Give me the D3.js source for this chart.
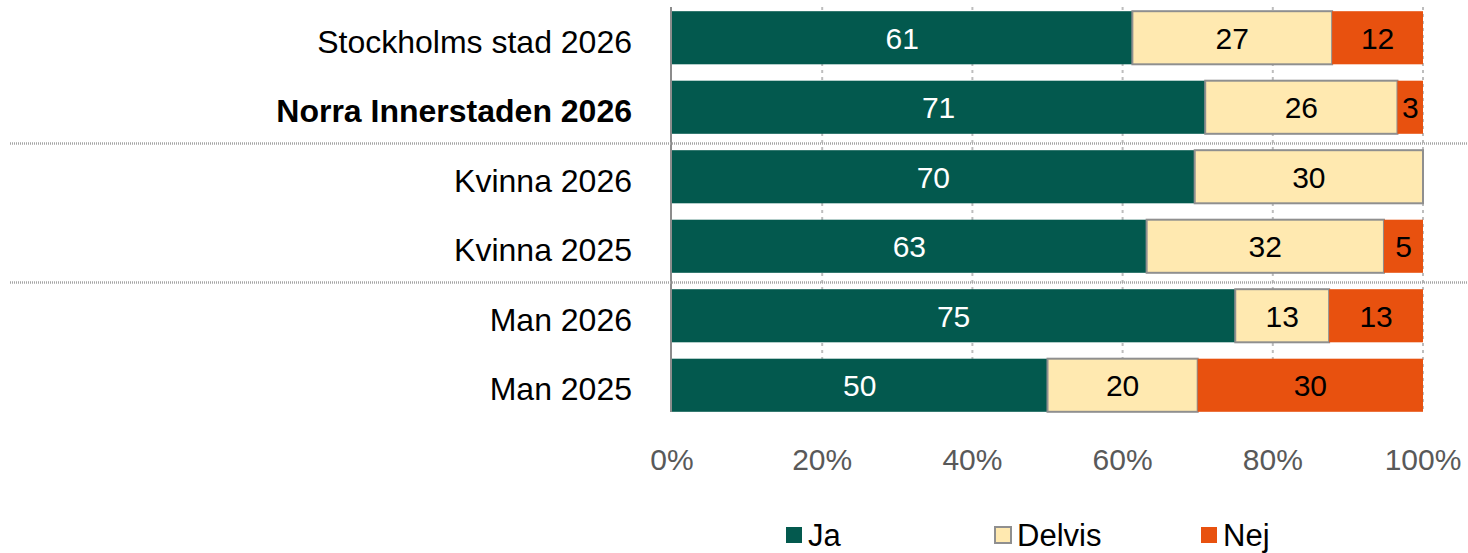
<!DOCTYPE html>
<html>
<head>
<meta charset="utf-8">
<script src="https://cdn.jsdelivr.net/npm/d3@7"></script>
<style>
  html, body { margin: 0; padding: 0; background: #fff; }
  svg { display: block; font-family: Arial, "Liberation Sans", sans-serif; }
</style>
</head>
<body>
<svg id="chart" width="1468" height="553"></svg>
<script>
// ---- data ----
const categories = ["Stockholms stad 2026", "Norra Innerstaden 2026", "Kvinna 2026", "Kvinna 2025", "Man 2026", "Man 2025"];
const boldCategories = ["Norra Innerstaden 2026"];
const seriesNames = ["Ja", "Delvis", "Nej"];
const jaValues = [61.3, 71.0, 69.6, 63.2, 75.0, 50.0];
const delvisValues = [26.6, 25.6, 30.4, 31.6, 12.5, 20.0];
const nejValues = [12.1, 3.4, 0, 5.2, 12.5, 30.0];
const ticks = [0, 20, 40, 60, 80, 100];
const separatorsAfter = ["Norra Innerstaden 2026", "Kvinna 2025"];

const colors = { "Ja": "#03594E", "Delvis": "#FFE9B0", "Nej": "#E8510F" };
const labelColors = { "Ja": "#ffffff", "Delvis": "#000000", "Nej": "#000000" };

const svg = d3.select("#chart");
const x = d3.scaleLinear().domain([0, 100]).range([672, 1423]);
const y = d3.scaleBand().domain(categories).range([3, 420]).paddingInner(0.236).paddingOuter(0.118);

const rows = categories.map((c, i) => ({ cat: c, Ja: jaValues[i], Delvis: delvisValues[i], Nej: nejValues[i] }));
const stacked = d3.stack().keys(seriesNames)(rows);

// gridlines
svg.append("g").selectAll("line").data(ticks.filter(t => t > 0)).join("line")
  .attr("x1", d => x(d)).attr("x2", d => x(d))
  .attr("y1", 7).attr("y2", 412)
  .attr("stroke", "#bdbdbd").attr("stroke-width", 2).attr("stroke-dasharray", "3,4");

// bars
const layers = svg.append("g").selectAll("g").data(stacked).join("g")
  .attr("fill", d => colors[d.key]);
layers.each(function(layer) {
  const g = d3.select(this);
  g.selectAll("rect").data(layer.filter(d => d[1] - d[0] > 0)).join("rect")
    .attr("x", d => x(d[0]))
    .attr("y", d => y(d.data.cat))
    .attr("width", d => x(d[1]) - x(d[0]))
    .attr("height", y.bandwidth())
    .attr("stroke", layer.key === "Delvis" ? "#8f8f8f" : "none")
    .attr("stroke-width", layer.key === "Delvis" ? 2 : 0);
  g.selectAll("text").data(layer.filter(d => d[1] - d[0] > 0)).join("text")
    .attr("x", d => x((d[0] + d[1]) / 2))
    .attr("y", d => y(d.data.cat) + y.bandwidth() / 2 + 11)
    .attr("text-anchor", "middle")
    .attr("font-size", 30)
    .attr("fill", labelColors[layer.key])
    .text(d => d3.format(".0f")(d[1] - d[0]));
});

// axis line
svg.append("line").attr("x1", 671).attr("x2", 671).attr("y1", 7).attr("y2", 412)
  .attr("stroke", "#8c8c8c").attr("stroke-width", 2);

// separators
const step = y.step();
separatorsAfter.forEach(c => {
  const yy = y(c) + y.bandwidth() + (step - y.bandwidth()) / 2 + 1.5;
  svg.append("line").attr("x1", 10).attr("x2", 1468).attr("y1", yy).attr("y2", yy)
    .attr("stroke", "#a6a6a6").attr("stroke-width", 2.5).attr("stroke-dasharray", "1,1");
});

// category labels
svg.append("g").selectAll("text").data(categories).join("text")
  .attr("x", 632)
  .attr("y", d => y(d) + y.bandwidth() / 2 + 15)
  .attr("text-anchor", "end")
  .attr("font-size", 32)
  .attr("font-weight", d => boldCategories.includes(d) ? "bold" : "normal")
  .attr("fill", "#000")
  .text(d => d);

// x tick labels
svg.append("g").selectAll("text").data(ticks).join("text")
  .attr("x", d => x(d))
  .attr("y", 470)
  .attr("text-anchor", "middle")
  .attr("font-size", 30)
  .attr("fill", "#595959")
  .text(d => d + "%");

// legend
const legendX = [786, 995, 1201];
const lg = svg.append("g").selectAll("g").data(seriesNames).join("g")
  .attr("transform", (d, i) => `translate(${legendX[i]},0)`);
lg.append("rect").attr("x", 0).attr("y", 527).attr("width", 16).attr("height", 16)
  .attr("fill", d => colors[d])
  .attr("stroke", d => d === "Delvis" ? "#8f8f8f" : "none").attr("stroke-width", 2);
lg.append("text").attr("x", 22).attr("y", 546).attr("font-size", 31).attr("fill", "#000").text(d => d);
</script>
</body>
</html>
